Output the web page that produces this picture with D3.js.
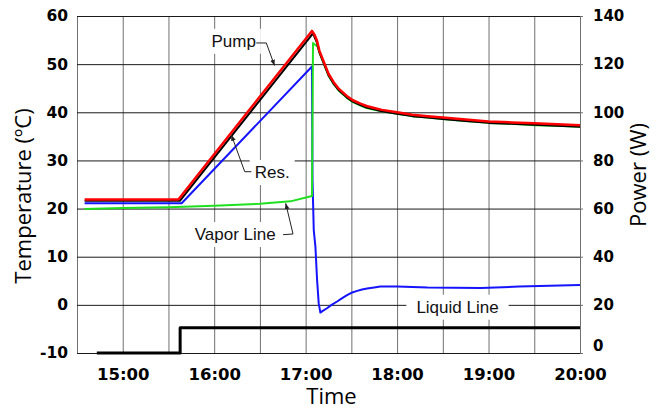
<!DOCTYPE html>
<html>
<head>
<meta charset="utf-8">
<script src="https://cdn.jsdelivr.net/npm/d3@7"></script>
<style>
    body { margin: 0; background: #fff; }
    svg { display: block; }
</style>
</head>
<body>
<div id="chart"></div>
<script>
// readings as [clock time, value]; temperatures in ºC, power in W
const pumpTemp = [
    ["14:35", 21.9], ["15:36:30", 21.9], ["17:04:10", 56.9], ["17:06", 56.0],
    ["17:07:30", 54.8], ["17:09", 52.8], ["17:12", 50.4], ["17:15", 48.0],
    ["17:18:30", 46.2], ["17:22", 44.8], ["17:27", 43.4], ["17:31", 42.5],
    ["17:36", 41.8], ["17:40", 41.3], ["17:45", 40.9], ["17:50", 40.5],
    ["18:00", 40.0], ["18:10", 39.5], ["18:20", 39.2], ["18:30", 38.9],
    ["18:45", 38.5], ["19:00", 38.1], ["19:15", 37.9], ["19:30", 37.7],
    ["19:45", 37.5], ["20:00", 37.3]
];
const resTemp = [
    ["14:35", 21.6], ["15:37:30", 21.6], ["17:04:50", 56.4], ["17:06", 55.5],
    ["17:07:30", 54.4], ["17:09", 52.5], ["17:12", 50.1], ["17:15", 47.7],
    ["17:18:30", 45.9], ["17:22", 44.5], ["17:27", 43.1], ["17:31", 42.2],
    ["17:36", 41.5], ["17:40", 41.0], ["17:45", 40.6], ["17:50", 40.2],
    ["18:00", 39.7], ["18:10", 39.2], ["18:20", 38.9], ["18:30", 38.6],
    ["18:45", 38.2], ["19:00", 37.8], ["19:15", 37.6], ["19:30", 37.4],
    ["19:45", 37.2], ["20:00", 37.0]
];
const vaporTemp = [
    ["14:35", 19.9], ["15:00", 20.1], ["15:30", 20.3], ["16:00", 20.6],
    ["16:30", 21.0], ["16:50", 21.5], ["17:04:10", 22.6], ["17:04:50", 54.4],
    ["17:07:50", 53.6], ["17:09", 52.4], ["17:12", 50.0], ["17:15", 47.6],
    ["17:18:30", 45.8], ["17:22", 44.4], ["17:27", 43.0], ["17:31", 42.1],
    ["17:36", 41.4], ["17:40", 40.9], ["17:45", 40.5], ["17:50", 40.2],
    ["18:00", 39.7], ["18:10", 39.2], ["18:20", 38.9], ["18:30", 38.6],
    ["18:45", 38.2], ["19:00", 37.8], ["19:15", 37.6], ["19:30", 37.3],
    ["19:45", 37.2], ["20:00", 37.0]
];
const liquidTemp = [
    ["14:35", 21.1], ["15:38:40", 21.1], ["17:04:10", 49.5], ["17:04:30", 26.0],
    ["17:05:20", 15.5], ["17:06:25", 12.1], ["17:07:30", 5.2], ["17:08:35", 0.3],
    ["17:09:40", -1.6], ["17:11", -1.3], ["17:14", -0.7], ["17:17", 0.0],
    ["17:20:40", 0.7], ["17:24", 1.4], ["17:27:10", 2.0], ["17:30", 2.5],
    ["17:33:50", 2.9], ["17:37", 3.2], ["17:40:20", 3.4], ["17:45", 3.6],
    ["17:49", 3.8], ["18:00", 3.8], ["18:20", 3.6], ["18:55", 3.5],
    ["19:20", 3.8], ["20:00", 4.1]
];
const heaterPower = [
    ["14:43", 0], ["15:37:40", 0], ["15:37:40", 10.5], ["20:00", 10.5]
];

const timeDomain = ["14:30", "20:00"];
const tempTicks = [-10, 0, 10, 20, 30, 40, 50, 60];
const powerTicks = [0, 20, 40, 60, 80, 100, 120, 140];

const parseT = s => d3.timeParse(s.length > 5 ? "%H:%M:%S" : "%H:%M")(s);
const midnight = parseT("00:00");
const hr = v => new Date(+midnight + v * 3600e3);

const W = 667, H = 410;
const margin = {top: 16, right: 87, bottom: 57, left: 77};
const iw = W - margin.left - margin.right,
    ih = H - margin.top - margin.bottom;

const x = d3.scaleTime()
    .domain(timeDomain.map(parseT))
    .range([0, iw]);
const yT = d3.scaleLinear()
    .domain(d3.extent(tempTicks))
    .range([ih, 0]);
const yP = d3.scaleLinear()
    .domain(d3.extent(powerTicks))
    .range([ih, 0]);

const svg = d3.select("#chart")
    .append("svg")
    .attr("width", W)
    .attr("height", H);

const defs = svg.append("defs");
defs.append("marker")
    .attr("id", "arrow")
    .attr("viewBox", "0 0 10 10")
    .attr("refX", 10)
    .attr("refY", 5)
    .attr("markerWidth", 6)
    .attr("markerHeight", 6)
    .attr("markerUnits", "userSpaceOnUse")
    .attr("orient", "auto")
    .append("path")
    .attr("d", "M0,1L10,5L0,9z")
    .attr("fill", "#222");

const g = svg.append("g")
    .attr("transform", "translate(" + margin.left + "," + margin.top + ")");

// grid + axes
const halfHours = d3.timeMinute.every(30).range(x.domain()[0], +x.domain()[1] + 1);
const fmt = d3.timeFormat("%H:%M");

const gx = g.append("g")
    .attr("transform", "translate(0," + ih + ")")
    .call(d3.axisBottom(x)
        .tickValues(halfHours)
        .tickSize(-ih)
        .tickSizeOuter(0)
        .tickPadding(15)
        .tickFormat(d => d.getMinutes() ? "" : fmt(d)));
gx.selectAll(".tick line").attr("stroke", "#707070");
gx.select(".domain").attr("stroke", "#707070");

const gyl = g.append("g")
    .call(d3.axisLeft(yT)
        .tickValues(tempTicks)
        .tickSize(-iw)
        .tickSizeOuter(0)
        .tickPadding(9)
        .tickFormat(d => String(d)));
gyl.selectAll(".tick line").attr("stroke", "#1a1a1a");
gyl.select(".domain").attr("stroke", "#707070");

const gyr = g.append("g")
    .attr("transform", "translate(" + iw + ",0)")
    .call(d3.axisRight(yP)
        .tickValues(powerTicks)
        .tickSize(3)
        .tickSizeOuter(0)
        .tickPadding(10)
        .tickFormat(d => String(d)));
gyr.selectAll(".tick line").attr("stroke", "#707070");
gyr.select(".domain").attr("stroke", "#707070");

svg.selectAll(".tick text")
    .attr("fill", "#000")
    .attr("font-family", "'DejaVu Sans', sans-serif")
    .attr("font-weight", "bold");
gx.selectAll(".tick text").attr("font-size", 16.5);
gyl.selectAll(".tick text").attr("font-size", 15.5);
gyr.selectAll(".tick text").attr("font-size", 15)
    .filter(d => d === 0).attr("dy", "-0.2em");

// annotation labels (white box behind, hides the grid)
const labelFont = "'Liberation Sans', Arial, sans-serif";
const notes = [
    {text: "Pump", t: 15.97, v: 53.6, lead: [[16.46, 54.4], [16.57, 54.4], [16.66, 49.7]]},
    {text: "Res.", t: 16.443, v: 26.35, lead: [[16.407, 27.66], [16.334, 27.66], [16.188, 35.3]]},
    {text: "Vapor Line", t: 15.787, v: 13.47, lead: [[16.753, 14.57], [16.862, 14.72], [16.782, 21.1]]},
    {text: "Liquid Line", t: 18.211, v: -1.63, lead: null}
];

const noteG = g.append("g");
notes.forEach(n => {
    const box = noteG.append("rect").attr("fill", "#fff");
    const txt = noteG.append("text")
        .attr("x", x(hr(n.t)))
        .attr("y", yT(n.v))
        .attr("font-family", labelFont)
        .attr("font-size", 17)
        .attr("fill", "#111")
        .text(n.text);
    const bb = txt.node().getBBox();
    const padX = n.lead ? 5 : 10, padY = 3;
    box.attr("x", bb.x - padX).attr("y", bb.y - padY)
        .attr("width", bb.width + 2 * padX).attr("height", bb.height + 2 * padY);
});

// series
const line = yScale => d3.line()
    .x(d => x(parseT(d[0])))
    .y(d => yScale(d[1]));

const series = [
    {data: heaterPower, scale: yP, color: "#000", width: 3},
    {data: liquidTemp, scale: yT, color: "#1414ff", width: 2},
    {data: vaporTemp, scale: yT, color: "#1fe01f", width: 2},
    {data: resTemp, scale: yT, color: "#000", width: 2},
    {data: pumpTemp, scale: yT, color: "#ff0000", width: 2.5}
];

g.append("g")
    .selectAll("path")
    .data(series)
    .enter().append("path")
    .attr("fill", "none")
    .attr("stroke", d => d.color)
    .attr("stroke-width", d => d.width)
    .attr("stroke-linejoin", "round")
    .attr("d", d => line(d.scale)(d.data));

// leader lines
g.append("g")
    .selectAll("path")
    .data(notes.filter(n => n.lead))
    .enter().append("path")
    .attr("fill", "none")
    .attr("stroke", "#222")
    .attr("stroke-width", 1)
    .attr("marker-end", "url(#arrow)")
    .attr("d", n => d3.line()(n.lead.map(p => [x(hr(p[0])), yT(p[1])])));

// axis titles
const titleFont = "'Open Sans', sans-serif";
svg.append("text")
    .attr("transform", "translate(31,196)rotate(-90)")
    .attr("text-anchor", "middle")
    .attr("font-family", titleFont)
    .attr("font-size", 22)
    .text("Temperature (ºC)");
svg.append("text")
    .attr("transform", "translate(646,175)rotate(-90)")
    .attr("text-anchor", "middle")
    .attr("font-family", titleFont)
    .attr("font-size", 22)
    .text("Power (W)");
svg.append("text")
    .attr("x", margin.left + iw / 2 + 3)
    .attr("y", 404)
    .attr("text-anchor", "middle")
    .attr("font-family", titleFont)
    .attr("font-size", 22)
    .text("Time");
</script>
</body>
</html>
